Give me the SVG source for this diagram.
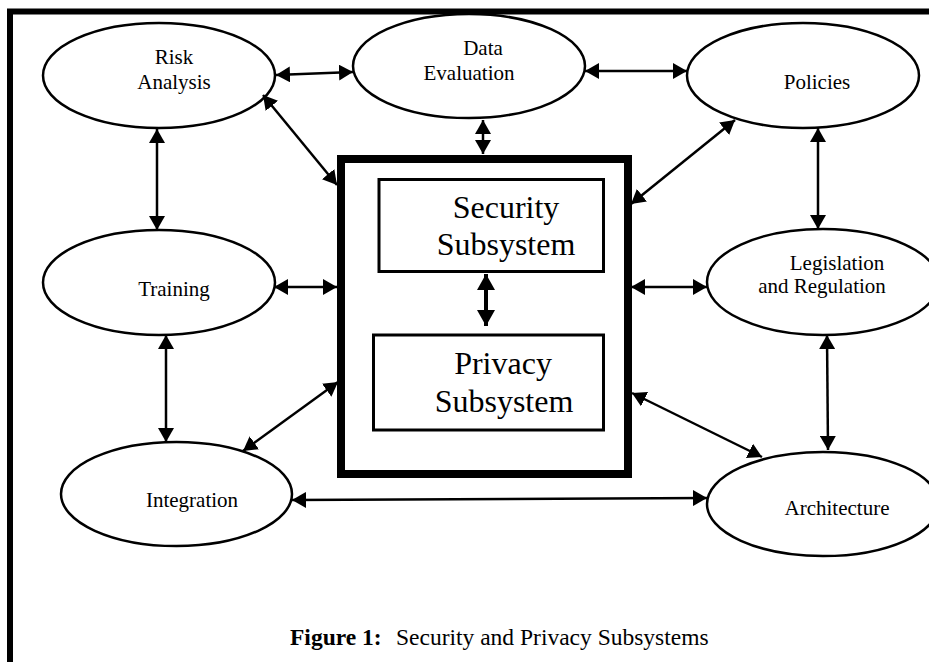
<svg xmlns="http://www.w3.org/2000/svg" width="929" height="662" viewBox="0 0 929 662">
  <style>
    .node ellipse { fill: #fff; stroke: #000; stroke-width: 2.5; }
    .box { fill: #fff; stroke: #000; stroke-width: 3; }
    .outer { fill: #fff; stroke: #000; stroke-width: 8; }
    text { font-family: "Liberation Serif", "Times New Roman", serif; fill: #000; text-anchor: middle; }
    .lbl { font-size: 21px; }
    .big { font-size: 32px; }
    .cap { font-size: 23.5px; text-anchor: start; }
    #connectors line { stroke: #000; stroke-width: 2.5; marker-start: url(#head); marker-end: url(#head); }
    #inner-link line { stroke: #000; stroke-width: 4; marker-start: url(#headBig); marker-end: url(#headBig); }
  </style>
  <defs>
    <marker id="head" markerUnits="userSpaceOnUse" viewBox="0 0 14 16" refX="14" refY="8" markerWidth="14" markerHeight="16" orient="auto-start-reverse">
      <path d="M0,0 L14,8 L0,16 Z" fill="#000"/>
    </marker>
    <marker id="headBig" markerUnits="userSpaceOnUse" viewBox="0 0 16 18" refX="16" refY="9" markerWidth="16" markerHeight="18" orient="auto-start-reverse">
      <path d="M0,0 L16,9 L0,18 Z" fill="#000"/>
    </marker>
  </defs>

  <rect width="929" height="662" fill="#fff"/>

  <!-- page frame -->
  <path d="M10,662 V11.5 H929" fill="none" stroke="#000" stroke-width="6"/>

  <!-- central block with its two subsystems -->
  <g id="core">
    <rect class="outer" x="341" y="159" width="287" height="315"/>
  </g>
  <g id="security">
    <rect class="box" x="379" y="179.5" width="224.5" height="92"/>
    <text class="big" x="506" y="218">Security</text>
    <text class="big" x="506" y="255">Subsystem</text>
  </g>
  <g id="privacy">
    <rect class="box" x="373.5" y="335" width="230" height="95"/>
    <text class="big" x="503" y="374">Privacy</text>
    <text class="big" x="504" y="412">Subsystem</text>
  </g>

  <!-- surrounding activities -->
  <g id="risk-analysis" class="node">
    <ellipse cx="159" cy="75.5" rx="116" ry="52.5"/>
    <text class="lbl" x="174" y="64">Risk</text>
    <text class="lbl" x="174" y="89">Analysis</text>
  </g>
  <g id="data-evaluation" class="node">
    <ellipse cx="469" cy="66" rx="116" ry="52"/>
    <text class="lbl" x="483" y="55">Data</text>
    <text class="lbl" x="469" y="80">Evaluation</text>
  </g>
  <g id="policies" class="node">
    <ellipse cx="803" cy="75.5" rx="116" ry="52.5"/>
    <text class="lbl" x="817" y="89">Policies</text>
  </g>
  <g id="training" class="node">
    <ellipse cx="159" cy="282.5" rx="116" ry="52.5"/>
    <text class="lbl" x="174" y="296">Training</text>
  </g>
  <g id="legislation" class="node">
    <ellipse cx="823" cy="282" rx="116" ry="53"/>
    <text class="lbl" x="837" y="270">Legislation</text>
    <text class="lbl" x="822" y="293">and Regulation</text>
  </g>
  <g id="integration" class="node">
    <ellipse cx="176.5" cy="494" rx="115.5" ry="52"/>
    <text class="lbl" x="192" y="507">Integration</text>
  </g>
  <g id="architecture" class="node">
    <ellipse cx="823" cy="504" rx="116" ry="52"/>
    <text class="lbl" x="837" y="515">Architecture</text>
  </g>

  <!-- two-way links -->
  <g id="connectors">
    <line x1="276" y1="75" x2="353" y2="72"/>
    <line x1="585" y1="71" x2="687" y2="71"/>
    <line x1="263" y1="95" x2="337" y2="185"/>
    <line x1="483" y1="120" x2="483" y2="154"/>
    <line x1="735" y1="120" x2="631" y2="204"/>
    <line x1="818" y1="128" x2="818" y2="229"/>
    <line x1="157" y1="129" x2="157" y2="230"/>
    <line x1="274" y1="287" x2="337" y2="287"/>
    <line x1="631" y1="287" x2="707" y2="287"/>
    <line x1="166" y1="335" x2="166" y2="442"/>
    <line x1="243" y1="451" x2="338" y2="382"/>
    <line x1="292" y1="500" x2="707" y2="498"/>
    <line x1="632" y1="393" x2="762" y2="457"/>
    <line x1="827" y1="335" x2="828" y2="450"/>
  </g>
  <g id="inner-link">
    <line x1="486" y1="274" x2="486" y2="326"/>
  </g>

  <!-- caption -->
  <text class="cap" x="290" y="645" font-weight="bold">Figure 1:</text>
  <text class="cap" x="396" y="645">Security and Privacy Subsystems</text>
</svg>
